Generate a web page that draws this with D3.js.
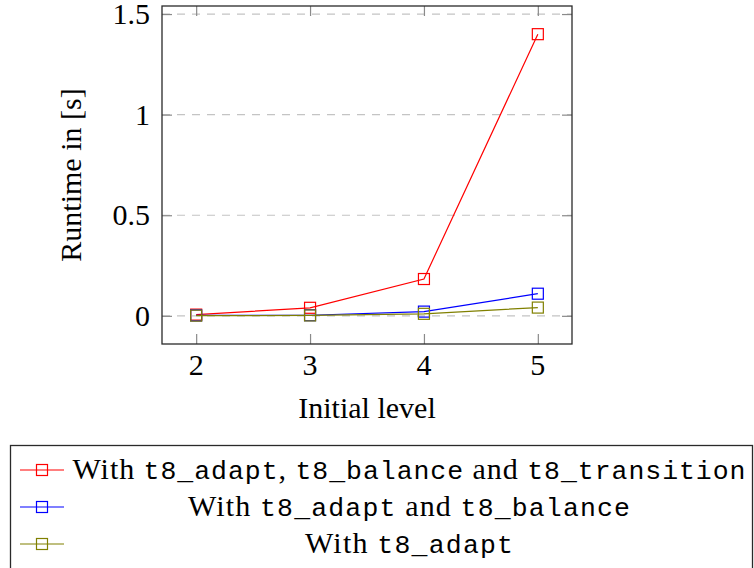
<!DOCTYPE html>
<html>
<head>
<meta charset="utf-8">
<script src="https://cdn.jsdelivr.net/npm/d3@7"></script>
</head>
<body style="margin:0">
<svg id="s" width="754" height="568"></svg>
<script>
// Runtime measurements per initial refinement level
const levels = [2, 3, 4, 5];
const runtimeAdaptBalanceTransition = [0.006, 0.04, 0.183, 1.40];
const runtimeAdaptBalance = [0.002, 0.003, 0.021, 0.11];
const runtimeAdapt = [0.001, 0.002, 0.01, 0.041];
const yTicks = [0, 0.5, 1, 1.5];

const seriesNames = [
  [[0, "With "], [1, "t8_adapt"], [0, ", "], [1, "t8_balance"], [0, " and "], [1, "t8_transition"]],
  [[0, "With "], [1, "t8_adapt"], [0, " and "], [1, "t8_balance"]],
  [[0, "With "], [1, "t8_adapt"]]
];
const seriesColors = ["#ff0000", "#0000ff", "#808000"];
const seriesValues = [runtimeAdaptBalanceTransition, runtimeAdaptBalance, runtimeAdapt];

// roman face for labels, typewriter face for code names
const fams = ["Liberation Serif", "Liberation Mono"];
const famSizes = [30, 26.5];

const plot = { left: 162, right: 572, top: 6, bottom: 344 };
const svg = d3.select("#s");

const x = d3.scaleLinear().domain([1.7, 5.3]).range([plot.left, plot.right]);
const y = d3.scaleLinear().domain([-0.14, 1.54]).range([plot.bottom, plot.top]);

// horizontal dashed grid
svg.append("g").selectAll("line").data(yTicks).join("line")
  .attr("x1", plot.left).attr("x2", plot.right)
  .attr("y1", d => y(d)).attr("y2", d => y(d))
  .attr("stroke", "#c4c4c4").attr("stroke-width", 1.2)
  .attr("stroke-dasharray", "8,7");

const tickColor = "#8a8a8a";
const tickLen = 10;

// axes: ticks only, labels placed as plain text elements
svg.append("g")
  .attr("transform", `translate(0,${plot.bottom})`)
  .call(d3.axisBottom(x).tickValues(levels).tickFormat("")
    .tickSizeInner(-tickLen).tickSizeOuter(0));
svg.append("g")
  .attr("transform", `translate(0,${plot.top})`)
  .call(d3.axisTop(x).tickValues(levels).tickFormat("")
    .tickSizeInner(-tickLen).tickSizeOuter(0));
svg.append("g")
  .attr("transform", `translate(${plot.left},0)`)
  .call(d3.axisLeft(y).tickValues(yTicks).tickFormat("")
    .tickSizeInner(-tickLen).tickSizeOuter(0));
svg.append("g")
  .attr("transform", `translate(${plot.right},0)`)
  .call(d3.axisRight(y).tickValues(yTicks).tickFormat("")
    .tickSizeInner(-tickLen).tickSizeOuter(0));
svg.selectAll(".domain").remove();
svg.selectAll(".tick line").attr("stroke", tickColor).attr("stroke-width", 1.2);
svg.selectAll(".tick text").remove();

const fmtY = d3.format("~g");
levels.forEach(v => {
  svg.append("text").attr("x", x(v)).attr("y", 375)
    .attr("text-anchor", "middle")
    .attr("font-size", famSizes[0]).style("font-family", `"${fams[0]}"`)
    .text(String(v));
});
yTicks.forEach(v => {
  svg.append("text").attr("x", 150).attr("y", y(v) + 10)
    .attr("text-anchor", "end")
    .attr("font-size", famSizes[0]).style("font-family", `"${fams[0]}"`)
    .text(fmtY(v));
});

// frame
svg.append("rect")
  .attr("x", plot.left).attr("y", plot.top)
  .attr("width", plot.right - plot.left).attr("height", plot.bottom - plot.top)
  .attr("fill", "none").attr("stroke", "#2a2a2a").attr("stroke-width", 1.3);

// series lines and square marks
const line = d3.line().x((d, i) => x(levels[i])).y(d => y(d));
const markSize = 11;
seriesValues.forEach((vals, s) => {
  const g = svg.append("g");
  g.append("path").datum(vals)
    .attr("d", line).attr("fill", "none")
    .attr("stroke", seriesColors[s]).attr("stroke-width", 1.2);
  g.selectAll("rect").data(vals).join("rect")
    .attr("x", (d, i) => x(levels[i]) - markSize / 2)
    .attr("y", d => y(d) - markSize / 2)
    .attr("width", markSize).attr("height", markSize)
    .attr("fill", "none").attr("stroke", seriesColors[s]).attr("stroke-width", 1.2);
});

// axis titles
svg.append("text")
  .attr("x", (plot.left + plot.right) / 2).attr("y", 418)
  .attr("text-anchor", "middle")
  .attr("font-size", famSizes[0]).style("font-family", `"${fams[0]}"`)
  .text("Initial level");
svg.append("text")
  .attr("transform", `translate(81,${(plot.top + plot.bottom) / 2}) rotate(-90)`)
  .attr("text-anchor", "middle")
  .attr("font-size", famSizes[0]).style("font-family", `"${fams[0]}"`)
  .text("Runtime in [s]");

// legend
const legend = svg.append("g");
legend.append("rect")
  .attr("x", 10.5).attr("y", 445.5).attr("width", 742).attr("height", 130)
  .attr("fill", "#fff").attr("stroke", "#2a2a2a").attr("stroke-width", 1.3);
const rowY = [470, 507, 544];
const rowWidths = [673, 442, 208];
seriesNames.forEach((parts, s) => {
  const cy = rowY[s];
  legend.append("line")
    .attr("x1", 20).attr("x2", 64).attr("y1", cy).attr("y2", cy)
    .attr("stroke", seriesColors[s]).attr("stroke-width", 1.2);
  legend.append("rect")
    .attr("x", 42 - markSize / 2).attr("y", cy - markSize / 2)
    .attr("width", markSize).attr("height", markSize)
    .attr("fill", "none").attr("stroke", seriesColors[s]).attr("stroke-width", 1.2);
  const t = legend.append("text")
    .attr("x", 409 - rowWidths[s] / 2).attr("y", cy + 9)
    .attr("font-size", famSizes[0]).style("font-family", `"${fams[0]}"`)
    .attr("textLength", rowWidths[s]).attr("lengthAdjust", "spacing");
  parts.forEach(([k, str]) => {
    t.append("tspan")
      .attr("font-size", famSizes[k]).style("font-family", `"${fams[k]}"`)
      .text(str.replace(/ /g, "\u00a0"));
  });
});
</script>
</body>
</html>
